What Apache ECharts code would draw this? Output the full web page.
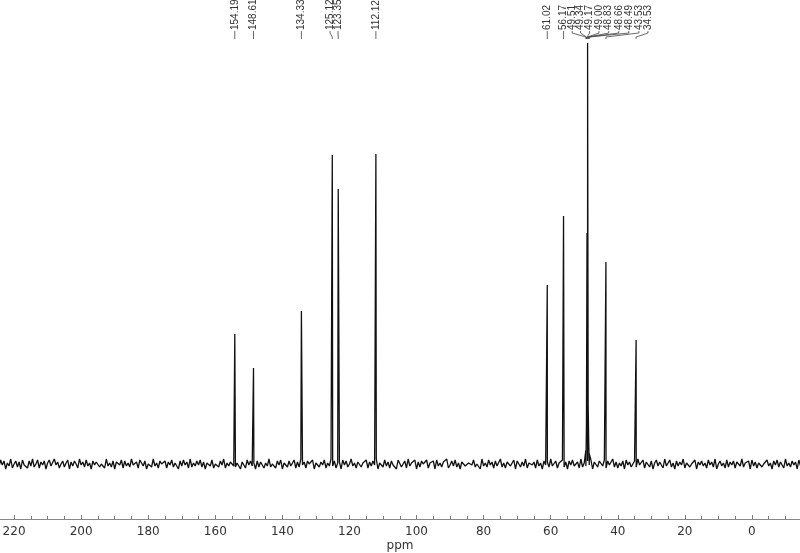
<!DOCTYPE html>
<html>
<head>
<meta charset="utf-8">
<script src="https://cdn.jsdelivr.net/npm/echarts@6/dist/echarts.min.js"></script>
<style>
  * { margin: 0; padding: 0; }
  body { background: #fff; }
</style>
</head>
<body>
<div id="nmr" style="width: 800px; height: 553px"></div>
<script>
// peak list (ppm), heights, labels as printed on top
const peakPpm = [154.19, 148.61, 134.33, 125.12, 123.35, 112.12, 61.02, 56.17,
  49.51, 49.34, 49.17, 49.00, 48.83, 48.66, 48.49, 43.53, 34.53];
const peakHeight = [130, 96, 153, 309, 275, 310, 179, 248,
  14, 40, 231, 421, 59, 22, 10, 202, 124];
const peakLabels = ["154.19", "148.61", "134.33", "125.12", "123.35", "112.12", "61.02", "56.17",
  "49.51", "49.34", "49.17", "49.00", "48.83", "48.66", "48.49", "43.53", "34.53"];

// baseline noise, one value every 0.5 ppm starting at 225 ppm
const noiseStart = 225;
const noiseStep = 0.5;
const noise = [
  2,-3,4,-1,3,-5,1,-2,5,-4,0,3,-3,2,-5,4,-1,1,-4,3,
  -2,5,-3,0,4,-4,2,-1,3,-5,1,4,-2,-3,5,-1,2,-4,0,3,
  -3,1,4,-5,2,-2,3,0,-4,5,-1,2,-3,4,-2,1,-5,3,-1,2,
  4,-3,0,2,-4,5,-2,1,-3,3,-5,2,0,-1,4,-4,3,-2,1,-3,
  5,-1,-3,2,-4,4,1,-2,3,-5,0,2,-3,5,-2,1,-4,3,0,-2,
  3,-4,2,-1,4,-3,1,0,-5,3,-2,4,-1,2,-4,5,-3,1,-2,3,
  -1,4,-3,2,-5,1,3,-2,4,-4,0,2,-3,3,-1,5,-4,1,-2,2,
  4,-2,-3,1,3,-5,2,0,-4,4,-1,3,-2,1,-5,3,-3,2,4,-4,
  1,-2,5,-3,0,2,-4,3,-1,4,-5,1,2,-3,3,-2,0,4,-4,2,
  -3,5,-1,2,-4,3,0,-2,4,-5,1,3,-3,2,-1,4,-4,1,-2,5,
  -2,3,-4,1,2,-5,4,-1,3,-3,0,5,-2,1,-4,2,3,-3,1,-1,
  4,-4,2,-2,3,-1,5,-5,1,0,-3,4,-2,2,-4,3,-1,1,-5,4,
  2,-3,0,3,-4,5,-2,1,-1,4,-5,2,-3,3,0,-2,4,-4,1,-1,
  3,-5,4,-2,1,-3,2,0,5,-4,-1,3,-2,4,-3,1,-5,2,3,-2,
  -4,1,3,-1,4,-3,0,2,-5,5,-2,1,-3,4,-1,2,-4,3,-2,0,
  5,-3,1,-4,2,3,-2,-1,4,-5,3,0,-3,2,-2,5,-4,1,0,-1,
  2,-4,4,-2,1,-5,3,-1,2,-3,5,-2,0,3,-4,1,-1,4,-3,2,
  -5,3,-1,4,-2,0,2,-4,5,-3,1,-2,3,-1,4,-5,2,0,-3,3,
  1,-2,4,-4,3,-1,0,5,-3,2,-4,1,-2,3,-5,4,-1,2,-3,0,
  3,-3,5,-1,-2,4,-4,2,0,-3,3,-5,1,4,-2,2,-1,-4,5,-2,
  0,4,-3,1,-5,3,-2,2,-1,5,-4,1,3,-3,0,-2,4,-5,2,-1,
  3,-2,1,-4,4,-1,2,-3,5,-5,0,3,-2,1,-4,4,-3,2,-1,3,
  -4,2,0,-2,5,-3,1,-1,3,-5,4,-2,2,-4,1,3,-3,0,-1,4,
  -2,1,-5,3,-1,4,-3,2,0,-4,5,-2,1,-3,3,-1,2,-5,4,-2
];

// where each label sits along the axis (ppm), spread out for the CD3OD septet
const labelAt = [154.19, 148.61, 134.33, 125.8, 123.4, 112.12, 61.02, 56.17,
  53.6, 51.1, 48.4, 45.6, 42.7, 39.7, 36.7, 33.7, 31.0];

const xTicks = { min: -20, max: 240, interval: 20 };

let spectrum = noise.map((v, i) => [noiseStart - i * noiseStep, v]);
peakPpm.forEach((p, i) => spectrum.push([p, peakHeight[i]]));
spectrum.sort((a, b) => b[0] - a[0]);

const labelData = peakPpm.map((p, i) => [p, labelAt[i], peakHeight[i]]);

const chart = echarts.init(document.getElementById("nmr"));
chart.setOption({
  animation: false,
  title: {
    text: "ppm",
    left: "center",
    top: 535,
    textStyle: { fontSize: 12, fontWeight: "normal", fontFamily: "DejaVu Sans", color: "#333" },
  },
  // grid runs past the canvas so 240 and -20 fall outside the picture
  grid: { left: -53, right: -19, top: 0, bottom: 34, outerBoundsMode: "none", containLabel: false },
  xAxis: {
    type: "value",
    inverse: true,
    min: xTicks.min,
    max: xTicks.max,
    interval: xTicks.interval,
    splitLine: { show: false },
    axisLine: { onZero: false, lineStyle: { color: "#888", width: 1 } },
    axisTick: { inside: true, length: 4, lineStyle: { color: "#777" } },
    minorTick: { show: true, splitNumber: 4, length: 3, lineStyle: { color: "#777" } },
    axisLabel: { fontSize: 12, fontFamily: "DejaVu Sans", color: "#333", margin: 7 },
  },
  yAxis: { type: "value", min: -55, max: 464, show: false },
  series: [
    {
      type: "line",
      data: spectrum,
      showSymbol: false,
      lineStyle: { color: "#111", width: 1.3 },
      z: 2,
    },
    {
      type: "custom",
      coordinateSystem: "cartesian2d",
      clip: false,
      data: labelData,
      encode: { x: 0, y: 2 },
      z: 3,
      renderItem: (params, api) => {
        const px = api.coord([api.value(0), 0])[0];
        const lx = api.coord([api.value(1), 0])[0];
        return {
          type: "group",
          children: [
            {
              type: "text",
              x: lx,
              y: 30,
              rotation: Math.PI / 2,
              style: {
                text: peakLabels[params.dataIndex],
                fontSize: 10,
                fontFamily: "Liberation Sans",
                fill: "#333",
                align: "left",
                verticalAlign: "middle",
              },
            },
            {
              type: "polyline",
              shape: { points: [[lx, 31], [lx, 33], [px, 37], [px, 39]] },
              style: { stroke: "#444", lineWidth: 0.8, fill: null },
            },
          ],
        };
      },
    },
  ],
});
</script>
</body>
</html>
